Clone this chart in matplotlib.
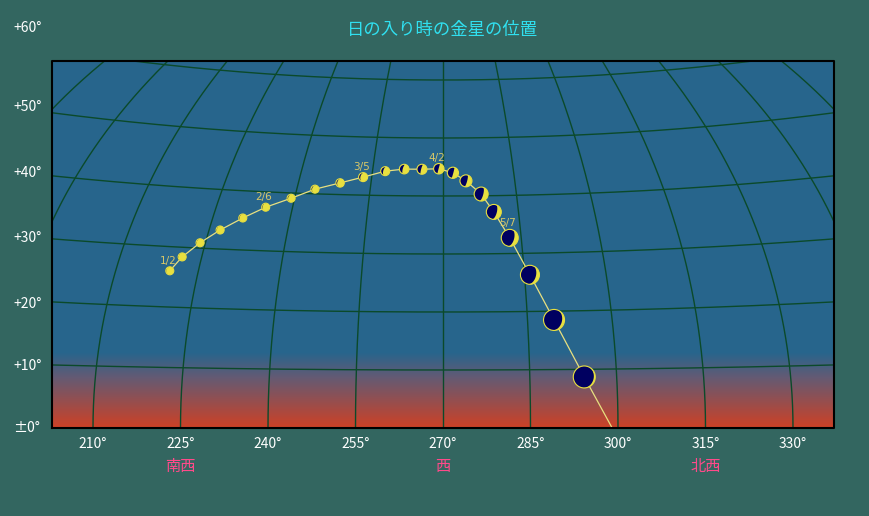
import numpy as np, matplotlib
matplotlib.use('Agg')
import matplotlib.pyplot as plt
from matplotlib.patches import Circle, Polygon
plt.rcParams['font.family'] = ['Noto Sans CJK JP', 'DejaVu Sans']

# Venus positions at sunset (azimuth deg, altitude deg), weekly from 1/2
venus_az  = [219.8,221.4,224.0,227.1,230.8,234.7,239.3,243.7,248.6,253.2,257.7,261.7,
             265.5,269.1,272.1,274.8,277.8,280.1,282.8,286.0,289.7,294.4]
venus_alt = [26.0,28.4,30.9,33.2,35.4,37.4,39.1,40.8,42.0,43.1,44.2,44.6,
             44.6,44.7,44.0,42.6,40.3,37.2,32.7,26.3,18.5,8.7]
venus_size = [4,4,4,4,4,4,4,4,4.2,4.5,4.5,4.8,5,5.2,5.6,6,7,7.5,8.5,9.5,10.5,11]
venus_lit  = [0.95,0.94,0.93,0.92,0.91,0.9,0.88,0.86,0.84,0.8,0.72,0.65,0.58,0.52,
              0.46,0.4,0.35,0.3,0.24,0.18,0.12,0.07]
tail_az, tail_alt = 299.0, 0.0
date_labels = {0:'1/2', 5:'2/6', 9:'3/5', 13:'4/2', 18:'5/7'}
az_ticks = [210,225,240,255,270,285,300,315,330]
alt_tick_labels = ['±0°','+10°','+20°','+30°','+40°','+50°','+60°']
alt_tick_px = [428,366,304,238,173,107,28]
dir_labels = [(225,'南西'),(270,'西'),(315,'北西')]
title = '日の入り時の金星の位置'

def proj(az, alt):
    az = np.asarray(az, float); alt = np.asarray(alt, float)
    x = (az-270.0)*(87.5/15)*np.cos(np.radians(alt))**0.65
    y = 5.8*alt + 3.3e-6*alt*x*x
    return x, y

W,H = 870,516
bg = '#336660'
fig = plt.figure(figsize=(8.7,5.16), dpi=100, facecolor=bg)
x0,x1,y0,y1 = 52,834,61,428
ax = fig.add_axes([x0/W, 1-y1/H, (x1-x0)/W, (y1-y0)/H])
ax.set_xlim(x0-443, x1-443); ax.set_ylim(0, y1-y0)
ax.set_axis_off()

n = y1-y0
sky = np.array([39,101,140])/255.; red = np.array([205,65,38])/255.
mid = np.array([100,90,115])/255.
img = np.zeros((n,1,3))
for h in range(n):
    if h > 75: c = sky
    elif h > 50: t=(75-h)/25; c = sky*(1-t)+mid*t
    else: t=(50-h)/50; c = mid*(1-t)+red*t
    img[h,0] = c
ax.imshow(img, extent=[x0-443,x1-443,0,n], origin='lower', aspect='auto', zorder=0)

gc = '#0b4a2a'
for a in range(10,90,10):
    azs = np.linspace(150,390,481); X,Y = proj(azs, a)
    ax.plot(X,Y,color=gc,lw=1,zorder=1)
for az in range(150,391,15):
    alts = np.linspace(0,89.9,300); X,Y = proj(az, alts)
    ax.plot(X,Y,color=gc,lw=1,zorder=1)
ax.plot([x0-443,x1-443,x1-443,x0-443,x0-443],[0,0,n,n,0],color='black',lw=1.5,zorder=5,clip_on=False)

pa = venus_az+[tail_az]; pl = venus_alt+[tail_alt]
PX,PY = proj(pa,pl)
ax.plot(PX,PY,color='#e8e080',lw=0.9,zorder=2)
yel = '#e8e040'; navy = '#000060'
th = np.radians(-15)
R = np.array([[np.cos(th),-np.sin(th)],[np.sin(th),np.cos(th)]])
t = np.linspace(-np.pi/2,np.pi/2,60)
for i,(az,al) in enumerate(zip(venus_az,venus_alt)):
    cx,cy = proj(az,al); r = venus_size[i]; k = venus_lit[i]
    ax.add_patch(Circle((cx,cy),r,fc=navy,ec='none',zorder=3))
    limb = np.c_[r*np.cos(t), r*np.sin(t)]
    b = r*(2*k-1)
    term = np.c_[-b*np.cos(t[::-1]), r*np.sin(t[::-1])]
    poly = np.vstack([limb,term])@R.T + [cx,cy]
    ax.add_patch(Polygon(poly,fc=yel,ec='none',zorder=4))
    ax.add_patch(Circle((cx,cy),r,fc='none',ec=yel,lw=0.8,zorder=4))
    if i in date_labels:
        ax.text(cx-2,cy+r+1,date_labels[i],color='#d8c868',fontsize=7.5,ha='center',va='bottom',zorder=6,family='DejaVu Sans')

for az in az_ticks:
    X,_ = proj(az,0)
    fig.text((443+X)/W, 1-444/H, f'{az}°', color='white', fontsize=10, ha='center', va='center')
for py,lab in zip(alt_tick_px,alt_tick_labels):
    fig.text(13/W, 1-py/H, lab, color='white', fontsize=10, ha='left', va='center')
for az,lab in dir_labels:
    X,_ = proj(az,0)
    fig.text((443+X)/W, 1-466/H, lab, color='#ff4a8a', fontsize=11, ha='center', va='center')
fig.text(443/W, 1-30/H, title, color='#30e0f0', fontsize=12.5, ha='center', va='center')
fig.savefig('out.png', facecolor=bg)
